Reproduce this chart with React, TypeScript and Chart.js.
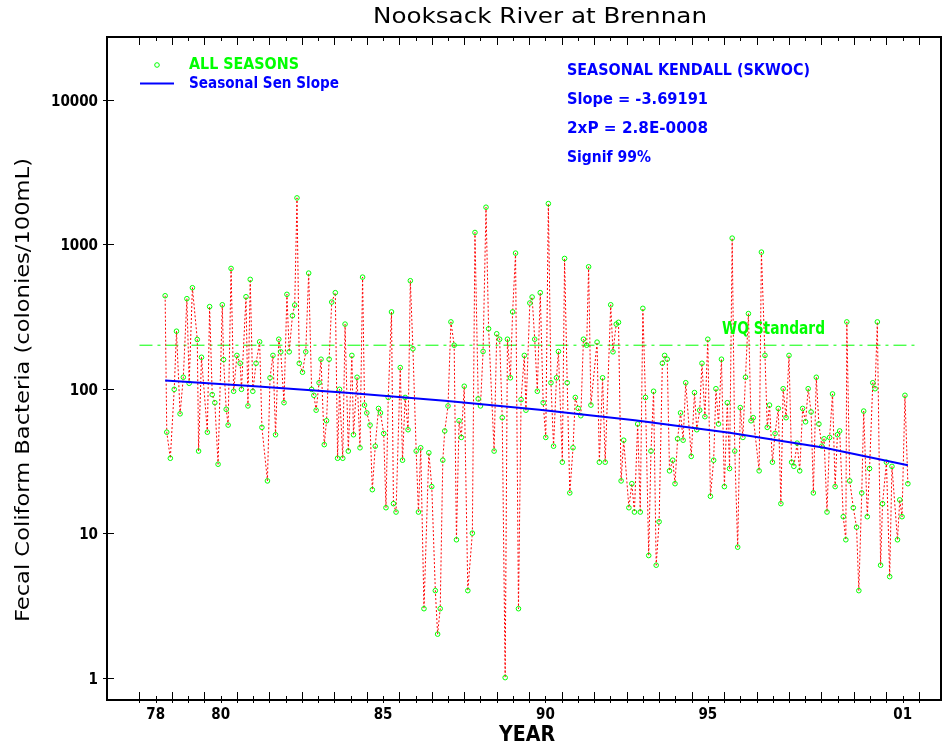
import React, { useEffect, useRef } from 'react';
import { Chart, registerables } from 'chart.js';

Chart.register(...registerables);

// ---- data ----
const YEARS = [
  1978.79, 1978.84, 1978.95, 1979.07, 1979.14, 1979.25, 1979.35, 1979.46, 1979.53, 1979.63,
  1979.78, 1979.82, 1979.91, 1980.09, 1980.16, 1980.24, 1980.32, 1980.42, 1980.55, 1980.59,
  1980.67, 1980.73, 1980.82, 1980.90, 1981.00, 1981.10, 1981.14, 1981.28, 1981.34, 1981.41,
  1981.49, 1981.59, 1981.70, 1981.77, 1981.94, 1982.02, 1982.11, 1982.19, 1982.29, 1982.35,
  1982.45, 1982.54, 1982.61, 1982.71, 1982.78, 1982.85, 1982.92, 1983.02, 1983.12, 1983.21,
  1983.30, 1983.37, 1983.44, 1983.53, 1983.59, 1983.69, 1983.76, 1983.84, 1983.92, 1984.03,
  1984.10, 1984.16, 1984.26, 1984.33, 1984.43, 1984.54, 1984.59, 1984.70, 1984.79, 1984.87,
  1984.93, 1985.00, 1985.10, 1985.17, 1985.26, 1985.36, 1985.42, 1985.52, 1985.59, 1985.66,
  1985.76, 1985.82, 1985.90, 1986.03, 1986.10, 1986.18, 1986.27, 1986.34, 1986.42, 1986.52,
  1986.59, 1986.66, 1986.76, 1986.91, 1987.00, 1987.11, 1987.18, 1987.26, 1987.34, 1987.40,
  1987.50, 1987.59, 1987.69, 1987.76, 1987.84, 1987.91, 1988.00, 1988.11, 1988.25, 1988.33,
  1988.43, 1988.50, 1988.58, 1988.67, 1988.75, 1988.92, 1989.00, 1989.09, 1989.17, 1989.26,
  1989.33, 1989.42, 1989.49, 1989.58, 1989.67, 1989.75, 1989.85, 1989.90, 1990.02, 1990.09,
  1990.17, 1990.25, 1990.34, 1990.43, 1990.51, 1990.59, 1990.67, 1990.75, 1990.84, 1990.90,
  1991.02, 1991.09, 1991.17, 1991.25, 1991.35, 1991.42, 1991.51, 1991.59, 1991.67, 1991.77,
  1991.83, 1991.90, 1992.09, 1992.16, 1992.26, 1992.34, 1992.51, 1992.58, 1992.68, 1992.75,
  1992.83, 1992.91, 1993.07, 1993.16, 1993.24, 1993.34, 1993.42, 1993.50, 1993.58, 1993.68,
  1993.75, 1993.83, 1993.91, 1994.00, 1994.10, 1994.17, 1994.25, 1994.32, 1994.42, 1994.49,
  1994.57, 1994.66, 1994.74, 1994.82, 1994.99, 1995.09, 1995.16, 1995.25, 1995.32, 1995.41,
  1995.50, 1995.58, 1995.68, 1995.75, 1995.83, 1995.92, 1996.01, 1996.10, 1996.17, 1996.25,
  1996.33, 1996.42, 1996.50, 1996.58, 1996.66, 1996.75, 1996.83, 1996.90, 1997.08, 1997.15,
  1997.26, 1997.33, 1997.40, 1997.49, 1997.57, 1997.67, 1997.75, 1997.82, 1997.91, 1998.00,
  1998.08, 1998.15, 1998.25, 1998.33, 1998.42, 1998.51, 1998.59, 1998.68, 1998.75, 1998.84,
  1998.92, 1999.01, 1999.08, 1999.17, 1999.25, 1999.34, 1999.42, 1999.49, 1999.56, 1999.67,
  1999.75, 1999.78, 1999.87, 1999.98, 2000.08, 2000.15, 2000.24, 2000.30, 2000.41, 2000.48,
  2000.58, 2000.65, 2000.72, 2000.82, 2000.88, 2001.00, 2001.10, 2001.17, 2001.34, 2001.41,
  2001.48, 2001.57, 2001.66,
];

const FECAL = [
  440, 50, 33, 99, 250, 67, 120, 420, 109, 500,
  219, 37, 165, 50, 370, 91, 80, 30, 381, 159,
  72, 56, 680, 96, 170, 150, 99, 433, 76, 571,
  96, 150, 211, 54, 23, 119, 170, 48, 220, 180,
  80, 450, 180, 320, 379, 2093, 150, 130, 180, 631,
  99, 90, 71, 110, 160, 41, 60, 160, 398, 462,
  33, 99, 33, 280, 37, 170, 48, 120, 39, 592,
  77, 68, 56, 20, 40, 73, 68, 49, 15, 87,
  340, 16, 14, 140, 32, 87, 52, 559, 189, 37,
  14, 39, 3, 36, 21, 4, 2, 3, 32, 51,
  76, 290, 200, 9, 60, 46, 104, 4, 10, 1206,
  85, 76, 181, 1804, 260, 37, 240, 220, 63, 1,
  220, 119, 340, 868, 3, 84, 170, 71, 392, 431,
  220, 96, 462, 80, 46, 1911, 110, 40, 119, 181,
  31, 797, 110, 19, 39, 87, 73, 65, 220, 200,
  698, 77, 210, 31, 119, 31, 381, 180, 280, 288,
  23, 44, 15, 22, 14, 57, 14, 360, 87, 7,
  37, 96, 6, 12, 150, 170, 160, 27, 32, 22,
  45, 68, 44, 110, 34, 94, 52, 71, 150, 64,
  220, 18, 32, 100, 57, 160, 21, 80, 28, 1102,
  37, 8, 74, 46, 120, 331, 60, 63, 27, 882,
  170, 54, 77, 31, 49, 73, 16, 100, 63, 170,
  31, 29, 42, 27, 73, 59, 100, 69, 19, 120,
  57, 40, 45, 14, 46, 92, 21, 48, 51, 13,
  9, 290, 23, 15, 11, 4, 19, 70, 13, 28,
  110, 100, 290, 6, 16, 31, 5, 29, 9, 17,
  13, 90, 22,
];

// Seasonal Sen slope line
const SEN_YEARS = [1978.79, 1981.55, 1984.48, 1987.4, 1990.32, 1993.25, 1996.17, 1999.09, 2001.66];
const SEN_VALUES = [114, 104, 93.5, 82.5, 71.5, 60.5, 49.5, 39, 29.5];

// Water-quality standard
const WQ_YEARS = [1978, 2002];
const WQ_VALUES = [200, 200];

const Y_TICKS = [1, 10, 100, 1000, 10000];
const X_LABEL_POS = [1978.5, 1980.5, 1985.5, 1990.5, 1995.5, 2001.5];
const X_LABELS = ['78', '80', '85', '90', '95', '01'];

const TITLE = 'Nooksack River at Brennan';
const Y_TITLE = 'Fecal Coliform Bacteria (colonies/100mL)';
const X_TITLE = 'YEAR';
const LEGEND_POINTS = 'ALL SEASONS';
const LEGEND_LINE = 'Seasonal Sen Slope';
const STATS = ['SEASONAL KENDALL (SKWOC)', 'Slope = -3.69191', '2xP = 2.8E-0008', 'Signif 99%'];
const WQ_LABEL = 'WQ Standard';

const GREEN = '#00ff00';
const BLUE = '#0000ff';
const RED = '#ff0000';

function fitText(
  ctx: CanvasRenderingContext2D,
  text: string,
  x: number,
  y: number,
  font: string,
  color: string,
  width: number,
  align: 'left' | 'center' | 'right' = 'left'
) {
  ctx.save();
  ctx.font = font;
  ctx.fillStyle = color;
  ctx.textBaseline = 'middle';
  ctx.textAlign = 'left';
  const w = ctx.measureText(text).width;
  const s = width / w;
  const left = align === 'center' ? x - width / 2 : align === 'right' ? x - width : x;
  ctx.translate(left, y);
  ctx.scale(s, 1);
  ctx.fillText(text, 0, 0);
  ctx.restore();
}

const decorPlugin = {
  id: 'decor',
  afterDraw(chart: any) {
    const ctx: CanvasRenderingContext2D = chart.ctx;
    const xs = chart.scales.x;
    const ys = chart.scales.y;
    const { left, right, top, bottom } = chart.chartArea;
    ctx.save();
    // frame
    ctx.strokeStyle = '#000';
    ctx.lineWidth = 2;
    ctx.beginPath();
    ctx.moveTo(left, top);
    ctx.lineTo(right, top);
    ctx.lineTo(right, bottom);
    ctx.lineTo(left, bottom);
    ctx.closePath();
    ctx.stroke();
    // x ticks (bottom and top)
    ctx.lineWidth = 1;
    ctx.beginPath();
    for (let yr = 1978; yr <= 2002.01; yr += 0.5) {
      const px = Math.round(xs.getPixelForValue(yr)) + 0.5;
      const len = Math.abs(yr - Math.round(yr)) < 0.01 ? 8 : 4;
      ctx.moveTo(px, bottom + 3);
      ctx.lineTo(px, bottom - len);
      ctx.moveTo(px, top);
      ctx.lineTo(px, top + len);
    }
    // y ticks
    for (const v of Y_TICKS) {
      const py = Math.round(ys.getPixelForValue(v)) + 0.5;
      ctx.moveTo(left - 4, py);
      ctx.lineTo(left + 7, py);
    }
    ctx.stroke();
    ctx.restore();

    // title and axis titles
    fitText(ctx, TITLE, 540, 17, '22px "DejaVu Sans"', '#000', 334, 'center');
    fitText(ctx, X_TITLE, 527, 735, 'bold 22px "DejaVu Sans"', '#000', 56, 'center');
    ctx.save();
    ctx.translate(24, 390);
    ctx.rotate(-Math.PI / 2);
    fitText(ctx, Y_TITLE, 0, 0, '500 20px "DejaVu Sans"', '#000', 464, 'center');
    ctx.restore();

    // legend
    ctx.save();
    ctx.strokeStyle = GREEN;
    ctx.lineWidth = 1;
    ctx.beginPath();
    ctx.arc(157, 65, 2.3, 0, Math.PI * 2);
    ctx.stroke();
    ctx.strokeStyle = BLUE;
    ctx.lineWidth = 2;
    ctx.beginPath();
    ctx.moveTo(140, 83.5);
    ctx.lineTo(174, 83.5);
    ctx.stroke();
    ctx.restore();
    fitText(ctx, LEGEND_POINTS, 189, 65, 'bold 15px "DejaVu Sans"', GREEN, 110);
    fitText(ctx, LEGEND_LINE, 189, 84, 'bold 15px "DejaVu Sans"', BLUE, 150);

    // stats
    const statW = [243, 141, 141, 84];
    const statY = [71, 100, 129, 158];
    STATS.forEach((s, i) => fitText(ctx, s, 567, statY[i], 'bold 15px "DejaVu Sans"', BLUE, statW[i]));

    // WQ label
    fitText(ctx, WQ_LABEL, 722, 330, 'bold 17px "DejaVu Sans"', GREEN, 103);
  },
};

export default function App() {
  const ref = useRef<HTMLCanvasElement | null>(null);
  useEffect(() => {
    if (!ref.current) return;
    const tickFont = { family: '"DejaVu Sans Condensed", "DejaVu Sans"', weight: 'bold' as const, size: 15 };
    const chart = new Chart(ref.current, {
      type: 'line',
      data: {
        datasets: [
          {
            label: 'WQ Standard',
            data: WQ_YEARS.map((x, i) => ({ x, y: WQ_VALUES[i] })),
            borderColor: GREEN,
            borderWidth: 1,
            borderDash: [13, 5, 3, 5],
            pointRadius: 0,
            order: 3,
          },
          {
            label: LEGEND_POINTS,
            data: YEARS.map((x, i) => ({ x, y: FECAL[i] })),
            borderColor: RED,
            borderWidth: 1,
            borderDash: [2, 2],
            pointRadius: 2.3,
            pointBorderWidth: 1,
            pointBorderColor: GREEN,
            pointBackgroundColor: 'rgba(0,0,0,0)',
            order: 2,
          },
          {
            label: LEGEND_LINE,
            data: SEN_YEARS.map((x, i) => ({ x, y: SEN_VALUES[i] })),
            borderColor: BLUE,
            borderWidth: 2,
            pointRadius: 0,
            order: 1,
          },
        ],
      },
      options: {
        animation: false,
        responsive: false,
        devicePixelRatio: 1,
        events: [],
        layout: { autoPadding: false, padding: { top: 37, right: 1, left: 0, bottom: 0 } },
        plugins: { legend: { display: false }, tooltip: { enabled: false }, title: { display: false } },
        scales: {
          x: {
            type: 'linear',
            min: 1977,
            max: 2002.68,
            grid: { display: false, drawTicks: false },
            border: { display: false },
            afterBuildTicks: (s: any) => {
              s.ticks = X_LABEL_POS.map((v) => ({ value: v }));
            },
            afterFit: (s: any) => {
              s.height = 50;
            },
            ticks: {
              autoSkip: false,
              maxRotation: 0,
              padding: 6,
              color: '#000',
              font: tickFont,
              callback: (v: any) => {
                const i = X_LABEL_POS.findIndex((p) => Math.abs(p - Number(v)) < 1e-6);
                return i >= 0 ? X_LABELS[i] : '';
              },
            },
          },
          y: {
            type: 'logarithmic',
            min: 0.72,
            max: 27200,
            grid: { display: false, drawTicks: false },
            border: { display: false },
            afterBuildTicks: (s: any) => {
              s.ticks = Y_TICKS.map((v) => ({ value: v }));
            },
            afterFit: (s: any) => {
              s.width = 107;
            },
            ticks: {
              autoSkip: false,
              padding: 9,
              labelOffset: 2,
              color: '#000',
              font: tickFont,
              callback: (v: any) => String(v),
            },
          },
        },
      },
      plugins: [decorPlugin],
    });
    return () => chart.destroy();
  }, []);
  return (
    <div style={{ position: 'fixed', left: 0, top: 0, width: 942, height: 750, background: '#fff' }}>
      <canvas ref={ref} width={942} height={750} style={{ display: 'block' }} />
    </div>
  );
}
